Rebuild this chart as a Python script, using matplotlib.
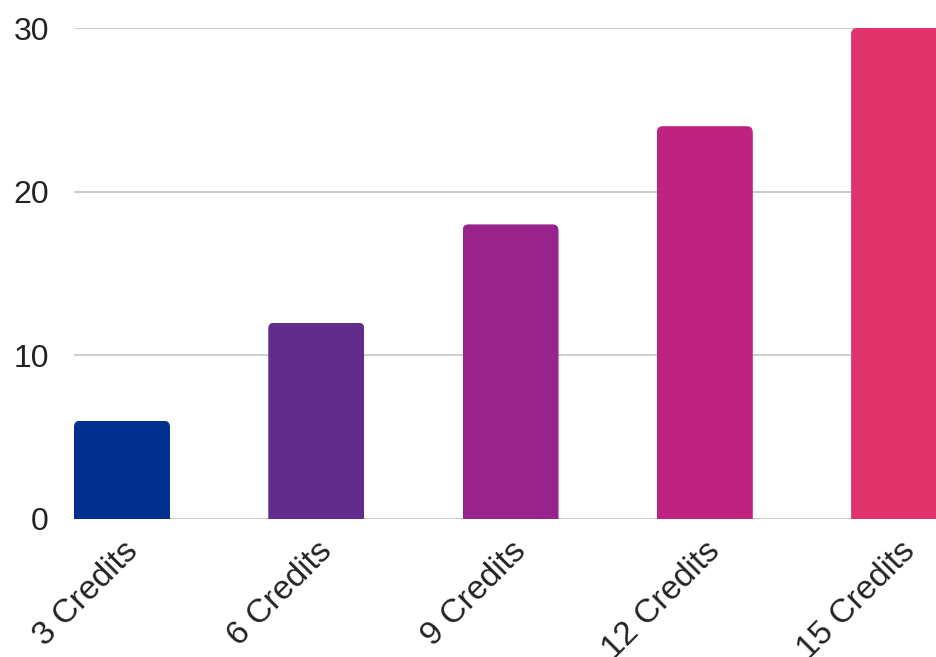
import matplotlib
matplotlib.use("Agg")
import matplotlib.pyplot as plt
from matplotlib.patches import FancyBboxPatch

categories = ["3 Credits", "6 Credits", "9 Credits", "12 Credits", "15 Credits"]
values = [6, 12, 18, 24, 30]
colors = ["#00308F", "#622C8F", "#97238B", "#C0237F", "#E0336B"]

plt.rcParams["font.family"] = ["Liberation Sans", "DejaVu Sans"]

fig = plt.figure(figsize=(9.36, 6.57), dpi=100)
ax = fig.add_axes([74 / 936, 138 / 657, 862 / 936, 491 / 657])

x = list(range(len(categories)))
bars = ax.bar(x, values, width=0.494, color=colors, zorder=2)

ax.set_xlim(-0.247, 4.19)
ax.set_ylim(0, 30)

# round the top corners: clip each bar with a rounded box
px_x = 1 / 194.3
px_y = 30 / 491
r = 6 * px_x
for b in bars:
    clip = FancyBboxPatch((b.get_x(), -2), b.get_width(), b.get_height() + 2,
                          boxstyle=f"round,pad=0,rounding_size={r}",
                          mutation_aspect=px_y / px_x, transform=ax.transData)
    b.set_clip_path(clip)

ax.set_yticks([0, 10, 20, 30])
ax.grid(axis="y", color="#c8c8c8", linewidth=1.3, zorder=0)
ax.set_axisbelow(True)
for s in ax.spines.values():
    s.set_visible(False)

ax.set_xticks(x)
ax.set_xticklabels(categories, rotation=45, ha="right", va="top", rotation_mode="anchor")
ax.tick_params(axis="both", length=0, colors="#222222")
ax.tick_params(axis="y", pad=18, labelsize=23)
ax.tick_params(axis="x", pad=12, labelsize=24)

fig.savefig("out.png", dpi=100)
